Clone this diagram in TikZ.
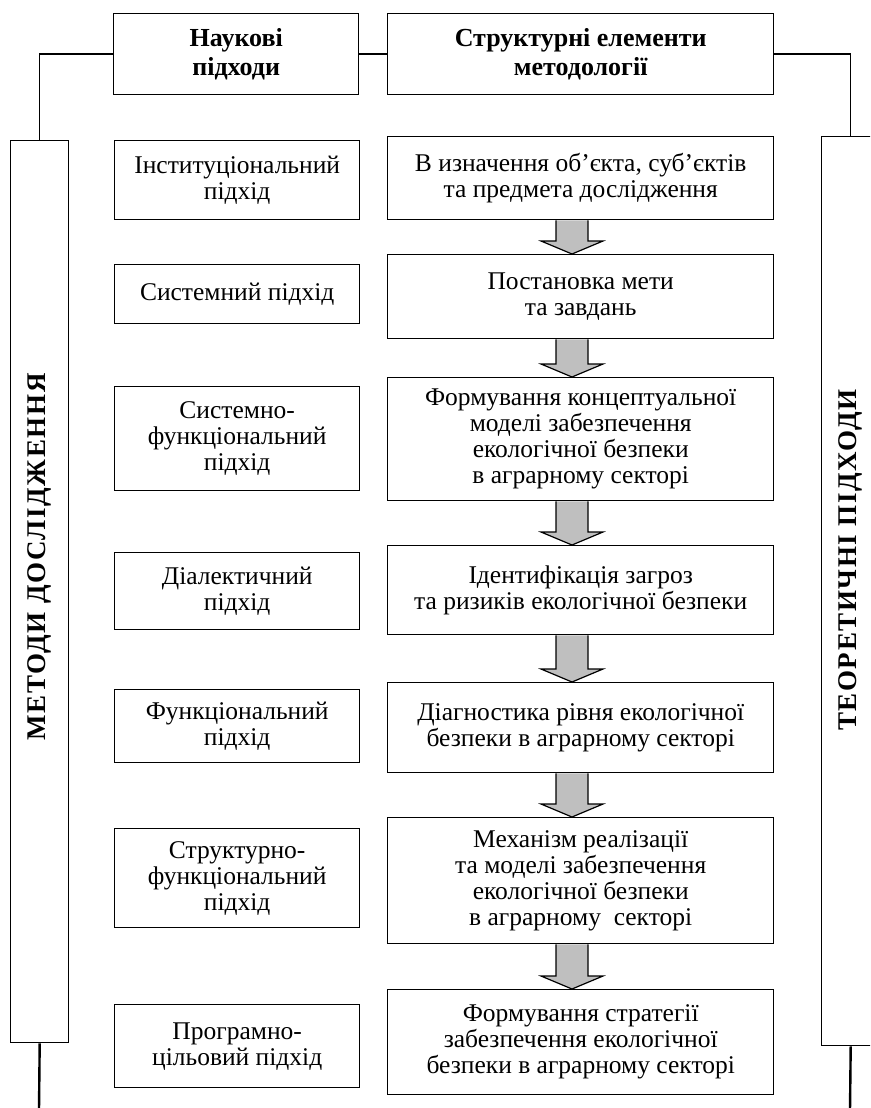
\documentclass[tikz,border=0pt]{standalone}
\usepackage{fontspec}
\setmainfont{Liberation Serif}
\usetikzlibrary{calc}
\tikzset{
  box/.style={draw, line width=1.4pt, inner sep=0pt, align=center, anchor=north west,
    font=\fontsize{25.5}{26}\selectfont},
  lbox/.style={box, minimum width=245pt},
  rbox/.style={box, minimum width=386pt},
  hbox/.style={box, font=\fontsize{26}{29}\selectfont\bfseries, minimum height=81pt},
  bar/.style={draw, line width=1.4pt, inner sep=0pt, anchor=north west, minimum width=58pt},
  vtext/.style={rotate=90, inner sep=0pt, font=\fontsize{27}{28}\selectfont\bfseries\addfontfeatures{LetterSpace=6}},
  conn/.style={line width=1.4pt},
  tail/.style={line width=2.4pt},
  barrow/.style={fill=black!25},
  barrowline/.style={line width=1.2pt, line join=miter}
}
\newcommand\blockarr[2]{%
  \fill[barrow] let \p1=(#1.south), \p2=(#2.north) in
    (556,\y1) -- (556,\y2+13) -- (541,\y2+13) -- (572,\y2) -- (603,\y2+13) -- (588,\y2+13) -- (588,\y1) -- cycle;
  \draw[barrowline] let \p1=(#1.south), \p2=(#2.north) in
    (556,\y1) -- (556,\y2+13) -- (541,\y2+13) -- (572,\y2) -- (603,\y2+13) -- (588,\y2+13) -- (588,\y1);
}
\begin{document}
\begin{tikzpicture}[x=1pt,y=-1pt]
\useasboundingbox (0,0) rectangle (870,1108);
\clip (0,0) rectangle (870,1108);
% headers
\node[hbox, minimum width=245pt] (H1) at (113,13) {Наукові\\підходи};
\node[hbox, minimum width=386pt] (H2) at (387,13) {Структурні елементи\\методології};
% side bars
\node[bar, minimum height=902pt] (LB) at (10,140) {};
\node[bar, minimum height=909pt] (RB) at (821,136) {};
\node[vtext] (LT) at (39,557) {МЕТОДИ ДОСЛІДЖЕННЯ};
\node[vtext] (RT) at (850,560) {ТЕОРЕТИЧНІ ПІДХОДИ};
% left column
\node[lbox, minimum height=79pt] (L1) at (114,140) {Інституціональний\\підхід};
\node[lbox, minimum height=59pt] (L2) at (114,264) {Системний підхід};
\node[lbox, minimum height=104pt] (L3) at (114,386) {Системно-\\функціональний\\підхід};
\node[lbox, minimum height=77pt] (L4) at (114,552) {Діалектичний\\підхід};
\node[lbox, minimum height=73pt] (L5) at (114,689) {Функціональний\\підхід};
\node[lbox, minimum height=99pt] (L6) at (114,828) {Структурно-\\функціональний\\підхід};
\node[lbox, minimum height=83pt] (L7) at (114,1004) {Програмно-\\цільовий підхід};
% right column
\node[rbox, minimum height=83pt] (R1) at (387,136) {В изначення об’єкта, суб’єктів\\та предмета дослідження};
\node[rbox, minimum height=84pt] (R2) at (387,254) {Постановка мети\\та завдань};
\node[rbox, minimum height=123pt] (R3) at (387,377) {Формування концептуальної\\моделі забезпечення\\екологічної безпеки\\в аграрному секторі};
\node[rbox, minimum height=89pt] (R4) at (387,545) {Ідентифікація загроз\\та ризиків екологічної безпеки};
\node[rbox, minimum height=90pt] (R5) at (387,682) {Діагностика рівня екологічної\\безпеки в аграрному секторі};
\node[rbox, minimum height=126pt] (R6) at (387,817) {Механізм реалізації\\та моделі забезпечення\\екологічної безпеки\\в аграрному\ \ секторі};
\node[rbox, minimum height=105pt] (R7) at (387,989) {Формування стратегії\\забезпечення екологічної\\безпеки в аграрному секторі};
% connectors
\draw[conn] (H1.west) -| (LB.north);
\draw[conn] (H1.east) -- (H2.west);
\draw[conn] (H2.east) -| (RB.north);
\coordinate (lend) at (39,1110);
\coordinate (rend) at (850,1110);
\draw[tail] (LB.south) -- (lend);
\draw[tail] (RB.south) -- (rend);
% block arrows
\blockarr{R1}{R2}
\blockarr{R2}{R3}
\blockarr{R3}{R4}
\blockarr{R4}{R5}
\blockarr{R5}{R6}
\blockarr{R6}{R7}
\end{tikzpicture}
\end{document}
